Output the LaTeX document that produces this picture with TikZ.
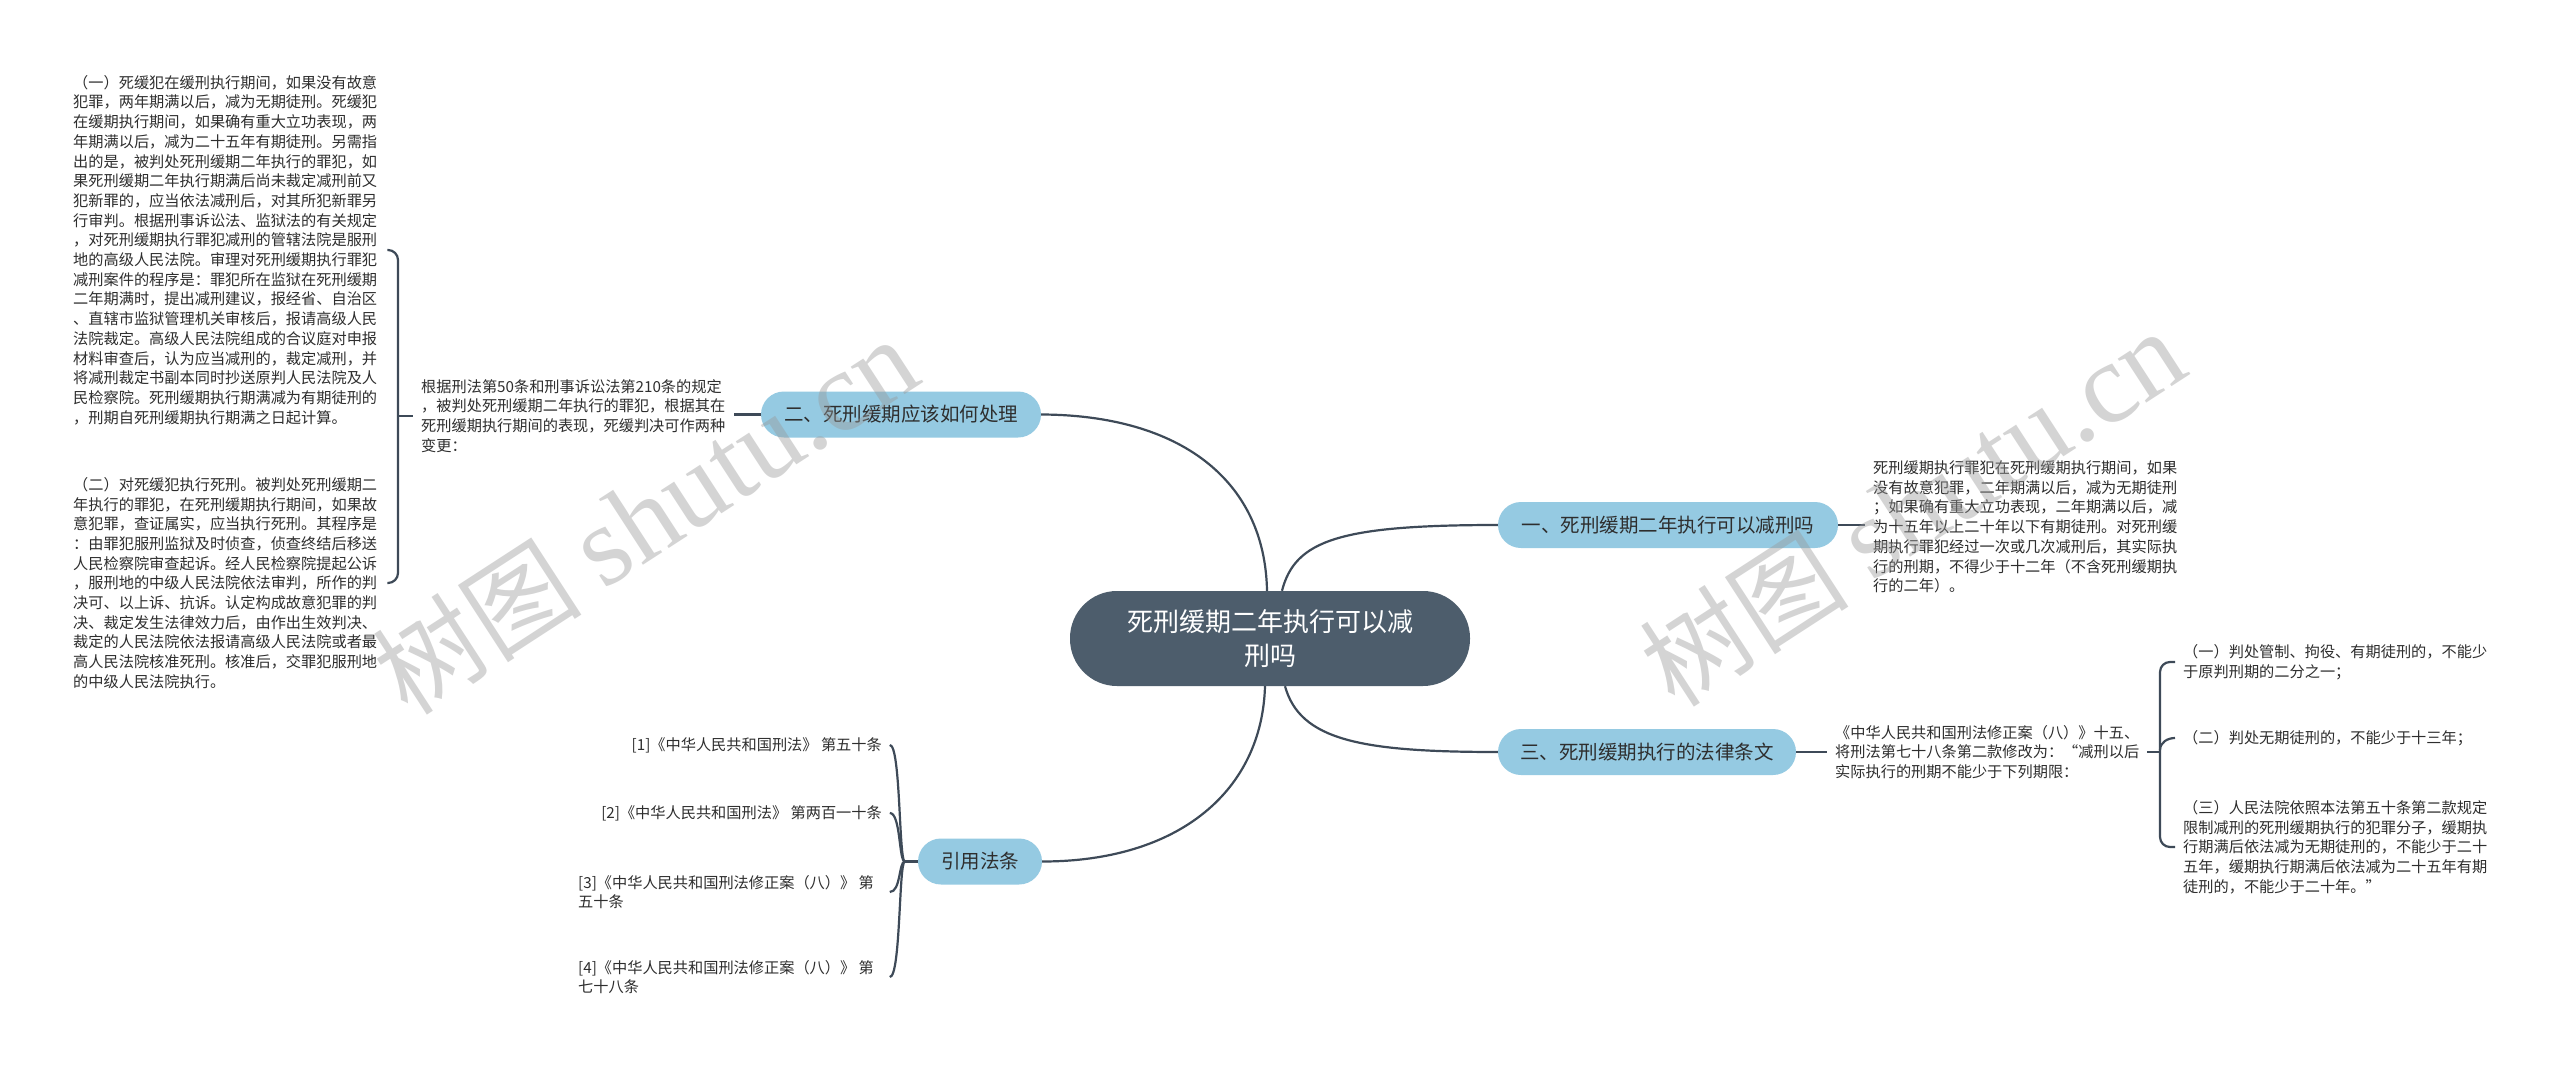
\documentclass[tikz,border=0pt]{standalone}
\usepackage{fontspec}
\setmainfont{Noto Sans CJK SC}
\newfontfamily\wmlatin{Liberation Serif}
\definecolor{lineC}{HTML}{3E4A58}
\definecolor{branchC}{HTML}{95CAE2}
\definecolor{rootC}{HTML}{4D5D6C}
\definecolor{txtC}{HTML}{2E2E2E}
\tikzset{
  conn/.style={draw=lineC, line width=2.2pt},
  branch/.style={fill=branchC, rounded corners=23pt, minimum height=46pt, inner sep=0pt,
    font=\fontsize{19.5}{23}\selectfont, text=txtC},
  rootbox/.style={fill=rootC, rounded corners=47pt, minimum width=400pt, minimum height=95pt,
    text=white, align=center, inner sep=0pt, font=\fontsize{26}{34}\selectfont},
  leaf/.style={inner sep=0pt, align=left, font=\fontsize{15.2}{19.7}\selectfont, text=txtC},
  wm/.style={rotate=33, text=gray!80, text opacity=0.42, font=\fontsize{105}{105}\selectfont}
}
\begin{document}
\begin{tikzpicture}[x=1pt,y=-1pt]
\useasboundingbox (0,0) rectangle (2560,1070);
\fill[white] (0,0) rectangle (2560,1070);

% root and branches
\node[rootbox] (root) at (1270,638.5) {死刑缓期二年执行可以减\\刑吗};
\node[branch, minimum width=280pt] (b2) at (901,414.5) {二、死刑缓期应该如何处理};
\node[branch, minimum width=340pt] (b1) at (1668,525) {一、死刑缓期二年执行可以减刑吗};
\node[branch, minimum width=298pt] (b3) at (1647,752) {三、死刑缓期执行的法律条文};
\node[branch, minimum width=124pt] (b4) at (980,861.5) {引用法条};

% left texts
\node[leaf, anchor=west] (tA) at (73,250) {（一）死缓犯在缓刑执行期间，如果没有故意\\
犯罪，两年期满以后，减为无期徒刑。死缓犯\\
在缓期执行期间，如果确有重大立功表现，两\\
年期满以后，减为二十五年有期徒刑。另需指\\
出的是，被判处死刑缓期二年执行的罪犯，如\\
果死刑缓期二年执行期满后尚未裁定减刑前又\\
犯新罪的，应当依法减刑后，对其所犯新罪另\\
行审判。根据刑事诉讼法、监狱法的有关规定\\
，对死刑缓期执行罪犯减刑的管辖法院是服刑\\
地的高级人民法院。审理对死刑缓期执行罪犯\\
减刑案件的程序是：罪犯所在监狱在死刑缓期\\
二年期满时，提出减刑建议，报经省、自治区\\
、直辖市监狱管理机关审核后，报请高级人民\\
法院裁定。高级人民法院组成的合议庭对申报\\
材料审查后，认为应当减刑的，裁定减刑，并\\
将减刑裁定书副本同时抄送原判人民法院及人\\
民检察院。死刑缓期执行期满减为有期徒刑的\\
，刑期自死刑缓期执行期满之日起计算。};

\node[leaf, anchor=west] (tB) at (73,583) {（二）对死缓犯执行死刑。被判处死刑缓期二\\
年执行的罪犯，在死刑缓期执行期间，如果故\\
意犯罪，查证属实，应当执行死刑。其程序是\\
：由罪犯服刑监狱及时侦查，侦查终结后移送\\
人民检察院审查起诉。经人民检察院提起公诉\\
，服刑地的中级人民法院依法审判，所作的判\\
决可、以上诉、抗诉。认定构成故意犯罪的判\\
决、裁定发生法律效力后，由作出生效判决、\\
裁定的人民法院依法报请高级人民法院或者最\\
高人民法院核准死刑。核准后，交罪犯服刑地\\
的中级人民法院执行。};

\node[leaf, anchor=west] (tC) at (421,416) {根据刑法第50条和刑事诉讼法第210条的规定\\
，被判处死刑缓期二年执行的罪犯，根据其在\\
死刑缓期执行期间的表现，死缓判决可作两种\\
变更：};

% right texts
\node[leaf, anchor=west] (t1) at (1873,527) {死刑缓期执行罪犯在死刑缓期执行期间，如果\\
没有故意犯罪，二年期满以后，减为无期徒刑\\
；如果确有重大立功表现，二年期满以后，减\\
为十五年以上二十年以下有期徒刑。对死刑缓\\
期执行罪犯经过一次或几次减刑后，其实际执\\
行的刑期，不得少于十二年（不含死刑缓期执\\
行的二年）。};

\node[leaf, anchor=west] (tD) at (1835,752) {《中华人民共和国刑法修正案（八）》十五、\\
将刑法第七十八条第二款修改为：“减刑以后\\
实际执行的刑期不能少于下列期限：};

\node[leaf, anchor=west] (e1) at (2183,662) {（一）判处管制、拘役、有期徒刑的，不能少\\
于原判刑期的二分之一；};
\node[leaf, anchor=west] (e2) at (2183,738) {（二）判处无期徒刑的，不能少于十三年；};
\node[leaf, anchor=west] (e3) at (2183,847) {（三）人民法院依照本法第五十条第二款规定\\
限制减刑的死刑缓期执行的犯罪分子，缓期执\\
行期满后依法减为无期徒刑的，不能少于二十\\
五年，缓期执行期满后依法减为二十五年有期\\
徒刑的，不能少于二十年。”};

% references
\node[leaf, anchor=east] (r1) at (882,745) {[1]《中华人民共和国刑法》 第五十条};
\node[leaf, anchor=east] (r2) at (882,813) {[2]《中华人民共和国刑法》 第两百一十条};
\node[leaf, anchor=west] (r3) at (578,892) {[3]《中华人民共和国刑法修正案（八）》 第\\五十条};
\node[leaf, anchor=west] (r4) at (578,977) {[4]《中华人民共和国刑法修正案（八）》 第\\七十八条};

% root connectors
\draw[conn] (b2.east) .. controls (1180,415) and (1265,480) .. ([xshift=-3pt]root.north);
\draw[conn] ([xshift=12pt]root.north) .. controls (1295,540) and (1340,525) .. (b1.west);
\draw[conn] ([xshift=15pt]root.south) .. controls (1300,740) and (1360,752) .. (b3.west);
\draw[conn] ([xshift=-5pt]root.south) .. controls (1262,790) and (1180,861.5) .. (b4.east);

% branch 2 side
\coordinate (c2e) at ([xshift=9pt]tC.east);
\draw[conn] (b2.west) -- (b2.west -| c2e);
\coordinate (bxL) at (398,416);
\draw[conn] (bxL) -- ([xshift=-8pt]tC.west);
\coordinate (hA) at ([xshift=10pt]tA.east);
\coordinate (hB) at ([xshift=10pt]tB.east);
\draw[conn, rounded corners=10pt] (hA) -- (hA -| bxL) -- (hB -| bxL) -- (hB);

% branch 1 side
\coordinate (c1w) at ([xshift=-8pt]t1.west);
\draw[conn] (b1.east) -- (b1.east -| c1w);

% branch 3 side
\coordinate (c3w) at ([xshift=-8pt]tD.west);
\draw[conn] (b3.east) -- (b3.east -| c3w);
\coordinate (bxR) at (2160,752);
\draw[conn] ([xshift=8pt]tD.east) -- (bxR);
\coordinate (h1) at ([xshift=-8pt]e1.west);
\coordinate (h2) at ([xshift=-8pt]e2.west);
\coordinate (h3) at ([xshift=-8pt]e3.west);
\draw[conn, rounded corners=10pt] (h1) -- (h1 -| bxR) -- (h3 -| bxR) -- (h3);
\coordinate (h2v) at (bxR |- h2);
\draw[conn] ([yshift=-12pt]h2v) to[out=90,in=180] (h2);

% references bracket
\coordinate (bx4) at ([xshift=-13pt]b4.west);
\draw[conn] (b4.west) -- (bx4);
\foreach \r in {r1,r2,r3,r4}{
  \coordinate (k) at (bx4 |- \r.west);
  \draw[conn] (bx4) .. controls ([xshift=-6pt]bx4) and ([xshift=-4pt]k) .. ([xshift=-15pt]k);
}

% watermarks
\node[wm] (wm1) at (645,516) {树图 {\wmlatin\fontsize{114}{114}\selectfont shutu.cn}};
\node[wm] (wm2) at (1912,508) {树图 {\wmlatin\fontsize{114}{114}\selectfont shutu.cn}};
\end{tikzpicture}
\end{document}
